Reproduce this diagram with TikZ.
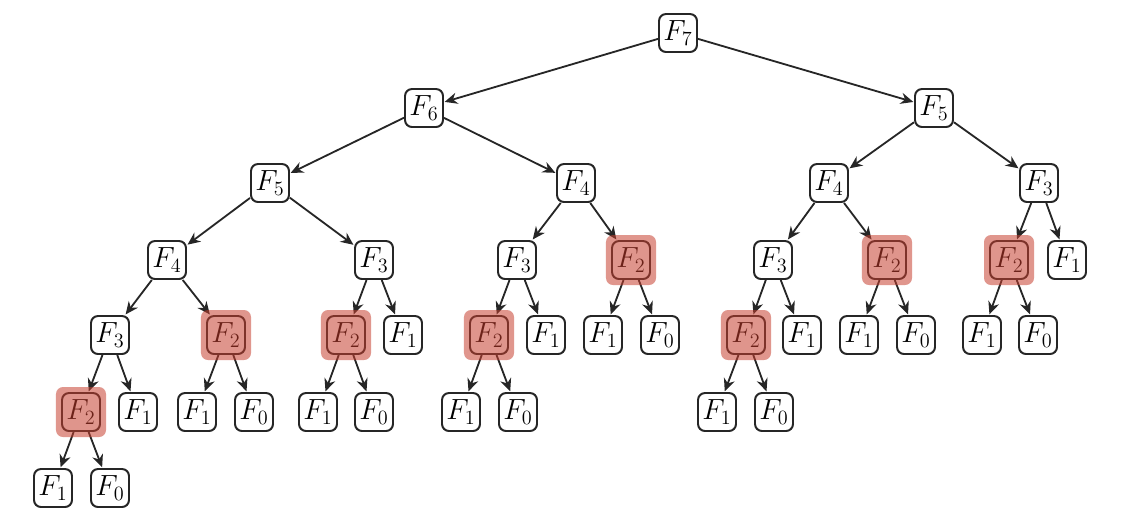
\documentclass[tikz,border=0pt]{standalone}
\usepackage{tikz}
\usetikzlibrary{arrows.meta}

\definecolor{hlred}{RGB}{198,63,47}

\tikzset{
    fib/.style={draw=black!85, line width=1.4pt, rounded corners=5pt, fill=white,
        minimum size=0.95cm, inner sep=0pt, font=\huge},
    hlbox/.style={fill=hlred, fill opacity=0.55, rounded corners=5pt,
        minimum size=1.25cm, inner sep=0pt},
    call/.style={-{Stealth[length=9pt,width=8pt]}, line width=1.3pt, draw=black!85, shorten >=0.5pt}
}

\begin{document}
\begin{tikzpicture}[x=0.025cm, y=-0.025cm]
    \useasboundingbox (0,0) rectangle (1121,516);

    % level 0 and 1
    \node[fib] (r) at (678,33) {$F_7$};
    \node[fib] (rl) at (424,108) {$F_6$};
    \node[fib] (rr) at (934,108) {$F_5$};

    % level 2
    \node[fib] (rll) at (270,183) {$F_5$};
    \node[fib] (rlr) at (576,183) {$F_4$};
    \node[fib] (rrl) at (829,183) {$F_4$};
    \node[fib] (rrr) at (1039,183) {$F_3$};

    % level 3
    \node[fib] (rlll) at (167,260) {$F_4$};
    \node[fib] (rllr) at (374,260) {$F_3$};
    \node[fib] (rlrl) at (517,260) {$F_3$};
    \node[fib] (rlrr) at (631,260) {$F_2$};
    \node[fib] (rrll) at (773,260) {$F_3$};
    \node[fib] (rrlr) at (887,260) {$F_2$};
    \node[fib] (rrrl) at (1009,260) {$F_2$};
    \node[fib] (rrrr) at (1067,260) {$F_1$};

    % level 4
    \node[fib] (rllll) at (110,335) {$F_3$};
    \node[fib] (rlllr) at (226,335) {$F_2$};
    \node[fib] (rllrl) at (346,335) {$F_2$};
    \node[fib] (rllrr) at (403,335) {$F_1$};
    \node[fib] (rlrll) at (489,335) {$F_2$};
    \node[fib] (rlrlr) at (546,335) {$F_1$};
    \node[fib] (rlrrl) at (603,335) {$F_1$};
    \node[fib] (rlrrr) at (660,335) {$F_0$};
    \node[fib] (rrlll) at (746,335) {$F_2$};
    \node[fib] (rrllr) at (802,335) {$F_1$};
    \node[fib] (rrlrl) at (859,335) {$F_1$};
    \node[fib] (rrlrr) at (916,335) {$F_0$};
    \node[fib] (rrrll) at (982,335) {$F_1$};
    \node[fib] (rrrlr) at (1038,335) {$F_0$};

    % level 5
    \node[fib] (rlllll) at (81,412) {$F_2$};
    \node[fib] (rllllr) at (138,412) {$F_1$};
    \node[fib] (rlllrl) at (197,412) {$F_1$};
    \node[fib] (rlllrr) at (254,412) {$F_0$};
    \node[fib] (rllrll) at (318,412) {$F_1$};
    \node[fib] (rllrlr) at (374,412) {$F_0$};
    \node[fib] (rlrlll) at (461,412) {$F_1$};
    \node[fib] (rlrllr) at (518,412) {$F_0$};
    \node[fib] (rrllll) at (717,412) {$F_1$};
    \node[fib] (rrlllr) at (774,412) {$F_0$};

    % level 6
    \node[fib] (rllllll) at (53,488) {$F_1$};
    \node[fib] (rlllllr) at (110,488) {$F_0$};

    % calls
    \foreach \p/\c in {r/rl, r/rr, rl/rll, rl/rlr, rr/rrl, rr/rrr,
        rll/rlll, rll/rllr, rlr/rlrl, rlr/rlrr, rrl/rrll, rrl/rrlr, rrr/rrrl, rrr/rrrr,
        rlll/rllll, rlll/rlllr, rllr/rllrl, rllr/rllrr, rlrl/rlrll, rlrl/rlrlr,
        rlrr/rlrrl, rlrr/rlrrr, rrll/rrlll, rrll/rrllr, rrlr/rrlrl, rrlr/rrlrr,
        rrrl/rrrll, rrrl/rrrlr,
        rllll/rlllll, rllll/rllllr, rlllr/rlllrl, rlllr/rlllrr, rllrl/rllrll, rllrl/rllrlr,
        rlrll/rlrlll, rlrll/rlrllr, rrlll/rrllll, rrlll/rrlllr,
        rlllll/rllllll, rlllll/rlllllr}
        \draw[call] (\p) -- (\c);

    % repeated F_2 calls
    \foreach \n in {rlrr, rrlr, rrrl, rlllr, rllrl, rlrll, rrlll, rlllll}
        \node[hlbox] at (\n) {};
\end{tikzpicture}
\end{document}
